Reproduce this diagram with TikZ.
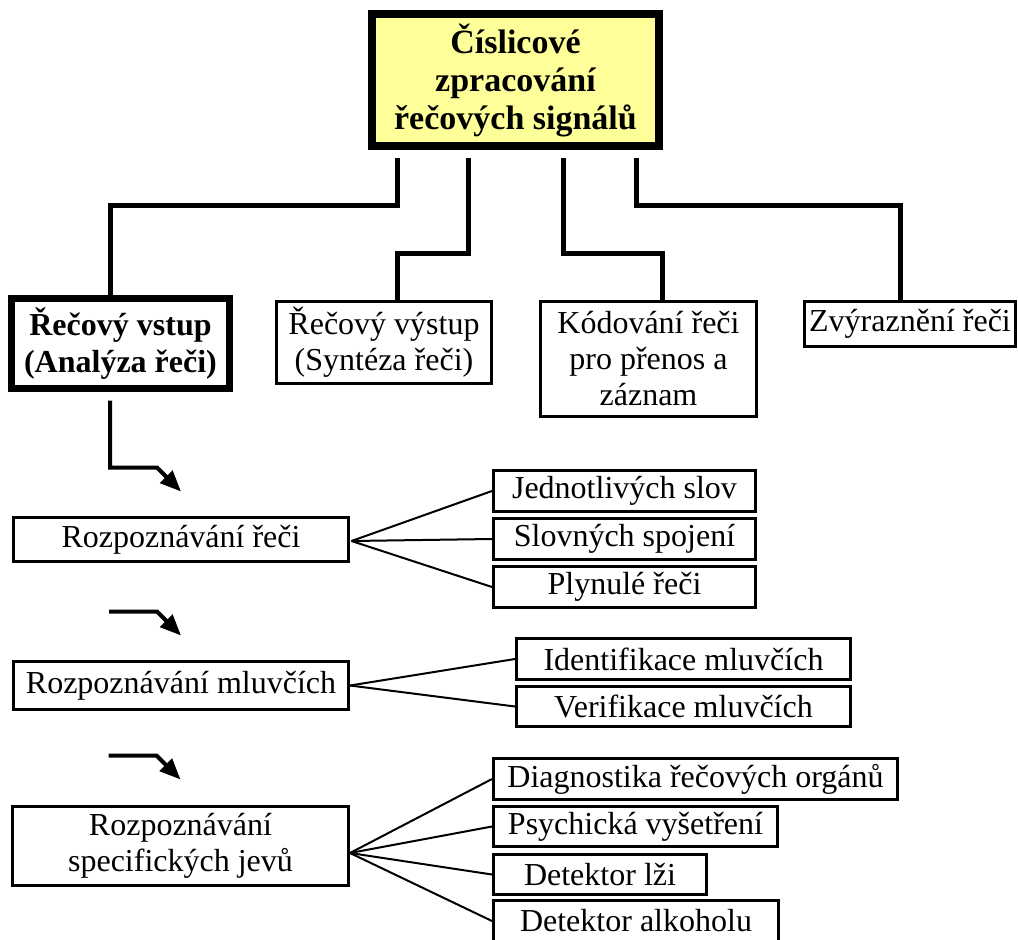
\documentclass[tikz,border=0pt]{standalone}
\usepackage{fontspec}
\setmainfont{Liberation Serif}
\usepackage{xcolor}
\usetikzlibrary{arrows.meta}
\definecolor{topyellow}{RGB}{255,255,153}

\begin{document}
\begin{tikzpicture}[x=1pt, y=-1pt,
    mainbox/.style={rectangle, draw=black, fill=topyellow, line width=8pt, inner sep=0pt, align=center, font=\fontsize{34}{38}\selectfont\bfseries},
    branchbold/.style={rectangle, draw=black, fill=white, line width=7pt, inner sep=0pt, align=center, font=\fontsize{32}{37}\selectfont\bfseries},
    branch/.style={rectangle, draw=black, fill=white, line width=3pt, inner sep=0pt, align=center, font=\fontsize{32}{36}\selectfont},
    leaf/.style={rectangle, draw=black, fill=white, line width=3pt, inner sep=0pt, minimum height=41pt, align=center, font=\fontsize{32}{36}\selectfont},
    tree/.style={line width=5pt, line join=miter},
    flow/.style={line width=4pt, -{Triangle[length=21pt,width=17pt]}},
    fan/.style={line width=2pt}
]
\useasboundingbox (0,0) rectangle (1018,940);

% Main box - top
\node[mainbox, minimum width=287pt, minimum height=132pt] (top) at (515.5,80) {Číslicové\\zpracování\\řečových signálů};

% Second level
\node[branchbold, minimum width=218pt, minimum height=90pt] (vstup) at (120.5,343.5) {Řečový vstup\\(Analýza řeči)};
\node[branch, minimum width=215pt, minimum height=82pt] (vystup) at (384,342.5) {Řečový výstup\\(Syntéza řeči)};
\node[branch, minimum width=216pt, minimum height=115pt] (kodovani) at (648.5,359) {Kódování řeči\\pro přenos a\\záznam};
\node[branch, minimum width=211pt, minimum height=45pt] (zvyrazneni) at (910,324) {Zvýraznění řeči};

% Tree lines - start a bit below the main box
\coordinate (t1) at ([yshift=-8pt]top.south -| 397,0);
\coordinate (t2) at ([yshift=-8pt]top.south -| 468,0);
\coordinate (t3) at ([yshift=-8pt]top.south -| 563,0);
\coordinate (t4) at ([yshift=-8pt]top.south -| 636,0);
\draw[tree] (t1) -- ++(0,47) -| ([xshift=-10.5pt]vstup.north);
\draw[tree] (t2) -- ++(0,95) -| ([xshift=13pt]vystup.north);
\draw[tree] (t3) -- ++(0,95) -| ([xshift=13.5pt]kodovani.north);
\draw[tree] (t4) -- ++(0,47) -| ([xshift=-10pt]zvyrazneni.north);

% Analysis tasks - left column
\node[branch, minimum width=335pt, minimum height=44pt] (recog) at (181,539.5) {Rozpoznávání řeči};
\node[branch, minimum width=335pt, minimum height=48pt] (speaker) at (181,685.5) {Rozpoznávání mluvčích};
\node[branch, minimum width=336pt, minimum height=79pt] (special) at (180.5,846) {Rozpoznávání\\specifických jevů};

% Arrows into the left column
\coordinate (a1) at ([yshift=-8.5pt]vstup.south -| 110,0);
\coordinate (e1) at ([yshift=24.5pt]recog.north);
\coordinate (e2) at ([yshift=24.5pt]speaker.north);
\coordinate (e3) at ([yshift=25.5pt]special.north);
\draw[flow] (a1) |- ([xshift=-24pt,yshift=24pt]e1) -- (e1);
\draw[flow] ([xshift=-72pt,yshift=24pt]e2) -- ([xshift=-24pt,yshift=24pt]e2) -- (e2);
\draw[flow] ([xshift=-72pt,yshift=24pt]e3) -- ([xshift=-24pt,yshift=24pt]e3) -- (e3);

% Leaves - speech recognition
\node[leaf, minimum width=262pt] (words) at (624.5,491) {Jednotlivých slov};
\node[leaf, minimum width=262pt] (phrases) at (624.5,539) {Slovných spojení};
\node[leaf, minimum width=262pt] (fluent) at (624.5,587) {Plynulé řeči};

% Leaves - speakers
\node[leaf, minimum width=334pt] (ident) at (683.5,659) {Identifikace mluvčích};
\node[leaf, minimum width=334pt, minimum height=40pt] (verif) at (683.5,706.5) {Verifikace mluvčích};

% Leaves - specific phenomena
\node[leaf, minimum width=404pt] (diag) at (695.5,779) {Diagnostika řečových orgánů};
\node[leaf, minimum width=284pt, minimum height=40pt] (psych) at (635.5,826.5) {Psychická vyšetření};
\node[leaf, minimum width=213pt, minimum height=40pt] (lie) at (600,874.5) {Detektor lži};
\node[leaf, minimum width=285pt] (alcohol) at (636,921) {Detektor alkoholu};

% Fan lines
\foreach \n in {words,phrases,fluent}
    \draw[fan] ([xshift=1.5pt,yshift=-1.5pt]recog.east) -- (\n.west);
\foreach \n in {ident,verif}
    \draw[fan] (speaker.east) -- (\n.west);
\foreach \n in {diag,psych,lie,alcohol}
    \draw[fan] ([yshift=-7pt]special.east) -- (\n.west);

\end{tikzpicture}
\end{document}
